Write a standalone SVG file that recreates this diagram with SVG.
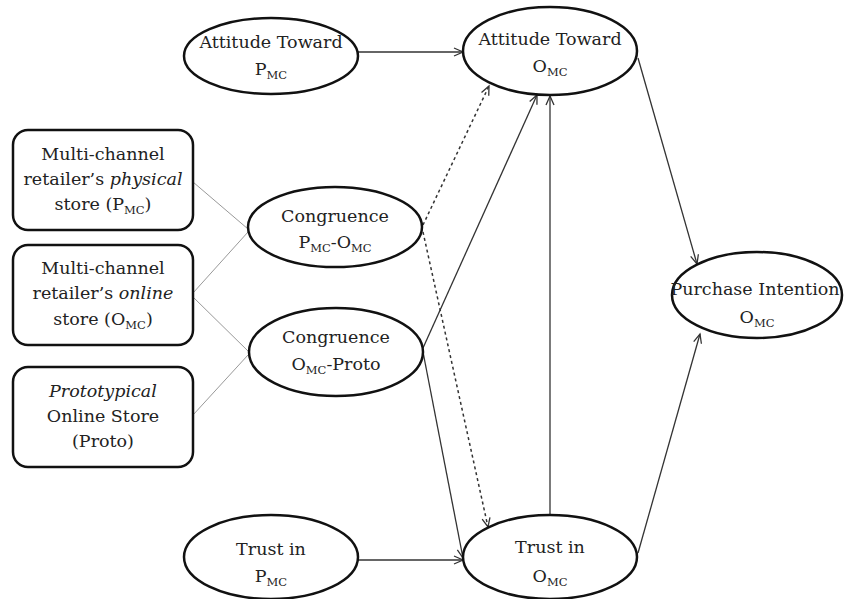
<svg xmlns="http://www.w3.org/2000/svg" width="846" height="599" viewBox="0 0 846 599">
<style>
.node ellipse{fill:#fff;stroke:#111;stroke-width:2.5}
.node rect{fill:#fff;stroke:#111;stroke-width:2.5}
text{fill:#222;text-anchor:middle;font-family:'DejaVu Serif',serif}
.e text{font-size:17.5px}
.b text{font-size:17.5px}
.sub{font-size:11.5px}
.arr{stroke:#333;stroke-width:1.3;fill:none;marker-end:url(#ah)}
.dash{stroke:#333;stroke-width:1.5;fill:none;stroke-dasharray:3 3;marker-end:url(#ah)}
.thin{stroke:#999;stroke-width:1;fill:none}
</style>
<defs>
<marker id="ah" markerWidth="12" markerHeight="12" refX="10" refY="5" orient="auto" markerUnits="userSpaceOnUse">
<path d="M1,1 L10,5 L1,9" fill="none" stroke="#333" stroke-width="1.3"/>
</marker>
</defs>
<rect width="846" height="599" fill="#fff"/>
<g id="connectors">
<path class="thin" d="M193,182 L248,229"/>
<path class="thin" d="M193,293 L248,232"/>
<path class="thin" d="M193,297 L248,351"/>
<path class="thin" d="M193,415 L248,355"/>
<path class="arr" d="M358,52 L463,52"/>
<path class="arr" d="M358,560 L463,560"/>
<path class="arr" d="M638,58 L697,264"/>
<path class="arr" d="M638,553 L700,334"/>
<path class="arr" d="M550,515 L550,96"/>
<path class="arr" d="M423,348 L537,95"/>
<path class="arr" d="M423,352 L463,558"/>
<path class="dash" d="M423,225 L489,86"/>
<path class="dash" d="M423,232 L488,527"/>
</g>
<g id="box-physical" class="node b">
<rect x="13" y="130" width="180" height="100" rx="15"/>
<text x="103" y="160">Multi-channel</text>
<text x="103" y="185">retailer’s <tspan font-style="italic">physical</tspan></text>
<text x="103" y="210">store (P<tspan class="sub" dy="4">MC</tspan><tspan dy="-4">)</tspan></text>
</g>
<g id="box-online" class="node b">
<rect x="13" y="245" width="180" height="100" rx="15"/>
<text x="103" y="274">Multi-channel</text>
<text x="103" y="299">retailer’s <tspan font-style="italic">online</tspan></text>
<text x="103" y="325">store (O<tspan class="sub" dy="4">MC</tspan><tspan dy="-4">)</tspan></text>
</g>
<g id="box-proto" class="node b">
<rect x="13" y="367" width="180" height="100" rx="15"/>
<text x="103" y="397" font-style="italic">Prototypical</text>
<text x="103" y="422">Online Store</text>
<text x="103" y="447">(Proto)</text>
</g>
<g id="att-pmc" class="node e">
<ellipse cx="271" cy="56" rx="87" ry="38"/>
<text x="271" y="48">Attitude Toward</text>
<text x="271" y="75">P<tspan class="sub" dy="4">MC</tspan></text>
</g>
<g id="att-omc" class="node e">
<ellipse cx="550" cy="51" rx="87" ry="44"/>
<text x="550" y="45">Attitude Toward</text>
<text x="550" y="72">O<tspan class="sub" dy="4">MC</tspan></text>
</g>
<g id="cong-pmc-omc" class="node e">
<ellipse cx="335" cy="227" rx="87" ry="40"/>
<text x="335" y="222">Congruence</text>
<text x="335" y="248">P<tspan class="sub" dy="4">MC</tspan><tspan dy="-4">-O</tspan><tspan class="sub" dy="4">MC</tspan></text>
</g>
<g id="cong-omc-proto" class="node e">
<ellipse cx="336" cy="352" rx="87" ry="44"/>
<text x="336" y="343">Congruence</text>
<text x="336" y="370">O<tspan class="sub" dy="4">MC</tspan><tspan dy="-4">-Proto</tspan></text>
</g>
<g id="trust-pmc" class="node e">
<ellipse cx="271" cy="557" rx="87" ry="42"/>
<text x="271" y="555">Trust in</text>
<text x="271" y="582">P<tspan class="sub" dy="4">MC</tspan></text>
</g>
<g id="trust-omc" class="node e">
<ellipse cx="550" cy="557" rx="87" ry="42"/>
<text x="550" y="553">Trust in</text>
<text x="550" y="582">O<tspan class="sub" dy="4">MC</tspan></text>
</g>
<g id="purchase" class="node e">
<ellipse cx="757" cy="295" rx="85" ry="43"/>
<text x="755" y="295">Purchase Intention</text>
<text x="757" y="323">O<tspan class="sub" dy="4">MC</tspan></text>
</g>
</svg>
